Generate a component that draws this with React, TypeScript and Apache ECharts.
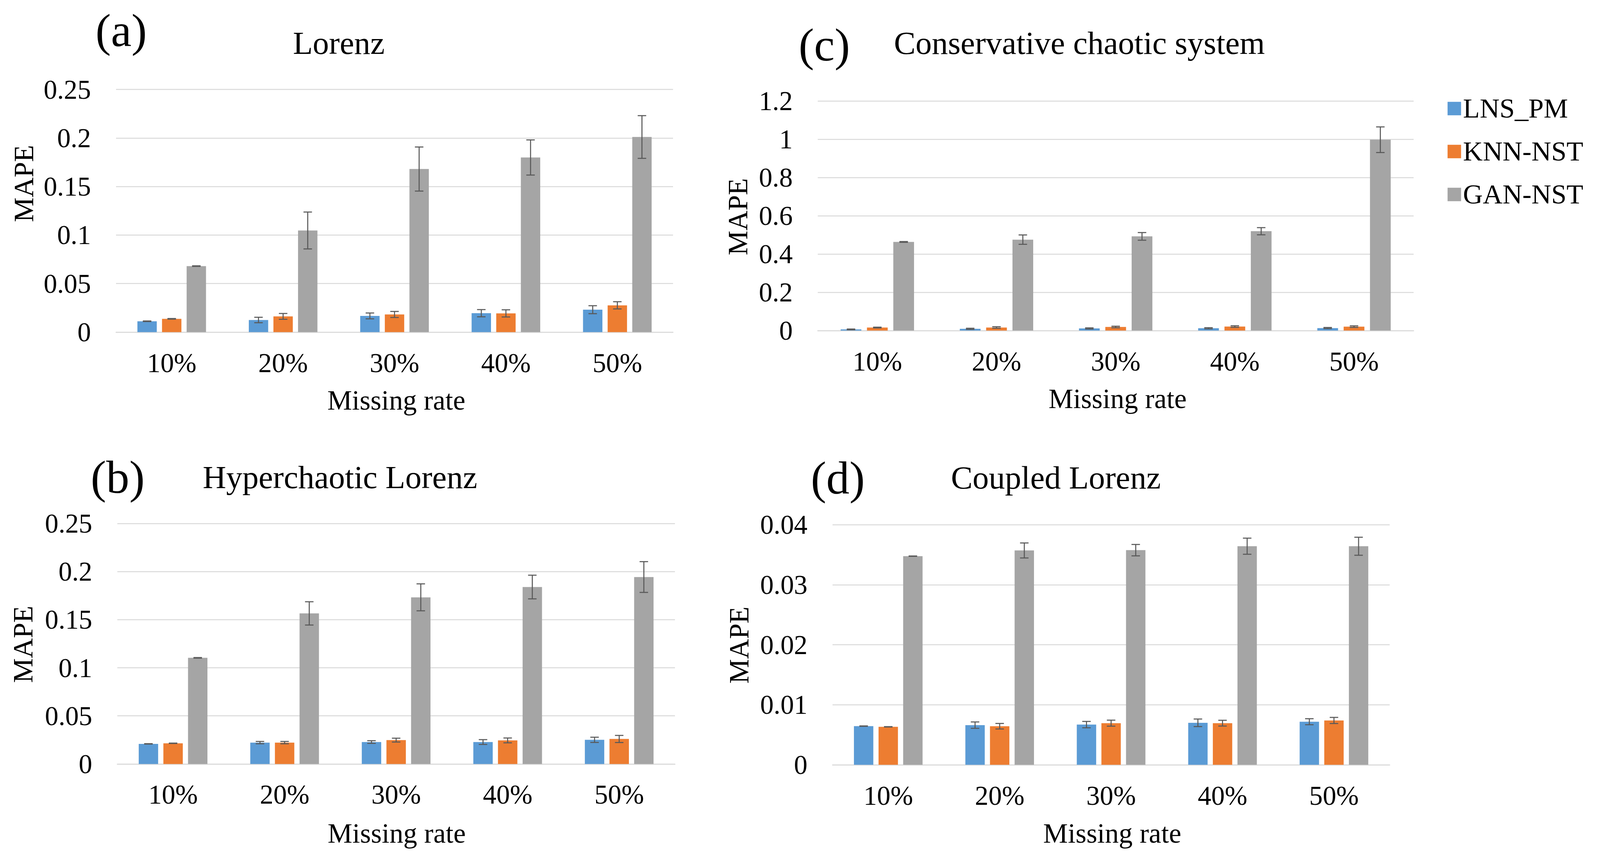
import React, { useEffect, useRef } from 'react';
import * as echarts from 'echarts';

// ---------- data ----------
const categories = ['10%', '20%', '30%', '40%', '50%'];
const seriesNames = ['LNS_PM', 'KNN-NST', 'GAN-NST'];
const colors = ['#5B9BD5', '#ED7D31', '#A5A5A5'];

// (a) Lorenz
const lorenzLNS = [0.0112, 0.0125, 0.0167, 0.0195, 0.0231];
const lorenzLNSErr = [0.0003, 0.0028, 0.003, 0.0037, 0.0041];
const lorenzKNN = [0.0137, 0.0162, 0.0182, 0.0193, 0.0276];
const lorenzKNNErr = [0.0003, 0.003, 0.0031, 0.0037, 0.0037];
const lorenzGAN = [0.068, 0.1047, 0.168, 0.1799, 0.201];
const lorenzGANErr = [0.0003, 0.019, 0.0227, 0.0181, 0.022];

// (b) Hyperchaotic Lorenz
const hyperLNS = [0.0209, 0.0222, 0.0228, 0.0228, 0.0251];
const hyperLNSErr = [0.0002, 0.0012, 0.0014, 0.0025, 0.0027];
const hyperKNN = [0.0215, 0.0222, 0.0248, 0.0245, 0.026];
const hyperKNNErr = [0.0002, 0.0012, 0.002, 0.0025, 0.0037];
const hyperGAN = [0.1103, 0.1565, 0.1732, 0.1839, 0.1943];
const hyperGANErr = [0.0003, 0.0121, 0.014, 0.0123, 0.016];

// (c) Conservative chaotic system
const consLNS = [0.006, 0.009, 0.011, 0.012, 0.013];
const consLNSErr = [0.002, 0.003, 0.003, 0.003, 0.003];
const consKNN = [0.0157, 0.016, 0.0187, 0.021, 0.0205];
const consKNNErr = [0.002, 0.004, 0.004, 0.004, 0.004];
const consGAN = [0.463, 0.475, 0.492, 0.519, 0.997];
const consGANErr = [0.002, 0.0245, 0.02, 0.0187, 0.067];

// (d) Coupled Lorenz
const coupLNS = [0.00645, 0.00661, 0.0067, 0.007, 0.00718];
const coupLNSErr = [0.00003, 0.00053, 0.00053, 0.00063, 0.0005];
const coupKNN = [0.00633, 0.00643, 0.00694, 0.00694, 0.00739];
const coupKNNErr = [0.00003, 0.00046, 0.0005, 0.00048, 0.00051];
const coupGAN = [0.03475, 0.0357, 0.03575, 0.03641, 0.0364];
const coupGANErr = [0.00003, 0.00125, 0.00095, 0.00134, 0.0015];

const yAxisMax = [0.25, 0.25, 1.2, 0.04];
const yAxisInterval = [0.05, 0.05, 0.2, 0.01];
const panelTitles = ['Lorenz', 'Hyperchaotic Lorenz', 'Conservative chaotic system', 'Coupled Lorenz'];
const panelLabels = ['(a)', '(b)', '(c)', '(d)'];
const yAxisName = 'MAPE';
const xAxisName = 'Missing rate';

// ---------- layout (reference frame 4146 x 2210) ----------
const REF_W = 4146;
const REF_H = 2210;
const FONT = 'Liberation Serif';
const panels = [
  {
    grid: { left: 300.6, top: 229, width: 1443.4, height: 621.5 },
    values: [lorenzLNS, lorenzKNN, lorenzGAN],
    errs: [lorenzLNSErr, lorenzKNNErr, lorenzGANErr],
    titlePos: [878, 110], labelPos: [314, 78], mapePos: [62, 470], xNamePos: [1027, 1025],
  },
  {
    grid: { left: 304, top: 1340.4, width: 1445, height: 616 },
    values: [hyperLNS, hyperKNN, hyperGAN],
    errs: [hyperLNSErr, hyperKNNErr, hyperGANErr],
    titlePos: [881, 1222], labelPos: [305, 1222], mapePos: [60, 1650], xNamePos: [1028, 2134],
  },
  {
    grid: { left: 2119, top: 258.3, width: 1544, height: 588.2 },
    values: [consLNS, consKNN, consGAN],
    errs: [consLNSErr, consKNNErr, consGANErr],
    titlePos: [2797, 110], labelPos: [2136, 115], mapePos: [1912, 555], xNamePos: [2896, 1021],
  },
  {
    grid: { left: 2157.3, top: 1343.5, width: 1443.7, height: 615.1 },
    values: [coupLNS, coupKNN, coupGAN],
    errs: [coupLNSErr, coupKNNErr, coupGANErr],
    titlePos: [2736, 1223], labelPos: [2171, 1224], mapePos: [1915, 1652], xNamePos: [2882, 2134],
  },
];

const BAR_W = 0.174;
const BAR_GAP = 0.27;

function buildOption(w: number, h: number) {
  const sx = w / REF_W;
  const sy = h / REF_H;
  const s = Math.min(sx, sy);
  const fs = (v: number) => Math.round(v * s * 10) / 10;

  const makeErr = (k: number) => (params: any, api: any) => {
    const idx = api.value(0);
    const v = api.value(1);
    const e = api.value(2);
    const band = api.size([1, 0])[0];
    const bw = band * BAR_W;
    const gap = bw * BAR_GAP;
    const cx = api.coord([idx, v])[0] + (k - 1) * (bw + gap);
    const yt = api.coord([idx, v + e])[1];
    const yb = api.coord([idx, v - e])[1];
    const cap = 11 * s;
    const style = { stroke: '#595959', lineWidth: 2.7 * s };
    return {
      type: 'group',
      children: [
        { type: 'line', shape: { x1: cx, y1: yt, x2: cx, y2: yb }, style },
        { type: 'line', shape: { x1: cx - cap, y1: yt, x2: cx + cap, y2: yt }, style },
        { type: 'line', shape: { x1: cx - cap, y1: yb, x2: cx + cap, y2: yb }, style },
      ],
    };
  };

  const textStyle = (text: string, size: number) => ({
    text,
    fontSize: fs(size),
    fontFamily: FONT,
    fill: '#000',
    textAlign: 'center',
    textVerticalAlign: 'middle',
    align: 'center',
    verticalAlign: 'middle',
  });

  const series: any[] = [];
  panels.forEach((p, i) => {
    for (let k = 0; k < 3; k++) {
      series.push({
        type: 'bar',
        name: seriesNames[k],
        xAxisIndex: i,
        yAxisIndex: i,
        data: p.values[k],
        barWidth: (BAR_W * 100).toFixed(1) + '%',
        barGap: BAR_GAP * 100 + '%',
        itemStyle: { color: colors[k] },
      });
    }
    for (let k = 0; k < 3; k++) {
      series.push({
        type: 'custom',
        xAxisIndex: i,
        yAxisIndex: i,
        renderItem: makeErr(k),
        data: categories.map((_, j) => [j, p.values[k][j], p.errs[k][j]]),
        encode: { x: 0, y: 1 },
        z: 10,
        silent: true,
        clip: false,
      });
    }
  });

  const graphic: any[] = [];
  panels.forEach((p, i) => {
    graphic.push({ type: 'text', x: p.labelPos[0] * sx, y: p.labelPos[1] * sy, style: textStyle(panelLabels[i], 120) });
    graphic.push({ type: 'text', x: p.titlePos[0] * sx, y: p.titlePos[1] * sy, style: textStyle(panelTitles[i], 84) });
    graphic.push({ type: 'text', x: p.mapePos[0] * sx, y: p.mapePos[1] * sy, rotation: Math.PI / 2, style: textStyle(yAxisName, 72) });
    graphic.push({ type: 'text', x: p.xNamePos[0] * sx, y: p.xNamePos[1] * sy, style: textStyle(xAxisName, 72) });
  });

  return {
    animation: false,
    backgroundColor: '#ffffff',
    textStyle: { fontFamily: FONT },
    legend: {
      data: seriesNames,
      orient: 'vertical',
      align: 'left',
      left: 3746 * sx,
      top: 237 * sy,
      padding: 5 * s,
      itemWidth: 35 * s,
      itemHeight: 35 * s,
      itemGap: 38 * sy,
      icon: 'rect',
      textStyle: { fontSize: fs(71), fontFamily: FONT, color: '#000', lineHeight: 72 * sy },
    },
    grid: panels.map((p) => ({
      left: p.grid.left * sx,
      top: p.grid.top * sy,
      width: p.grid.width * sx,
      height: p.grid.height * sy,
      containLabel: false,
    })),
    xAxis: panels.map((p, i) => ({
      type: 'category',
      gridIndex: i,
      data: categories,
      axisTick: { show: false },
      axisLine: { show: true, lineStyle: { color: '#D9D9D9', width: 2.5 * s } },
      axisLabel: { fontSize: fs(70), fontFamily: FONT, color: '#000', margin: 44 * sy },
    })),
    yAxis: panels.map((p, i) => ({
      type: 'value',
      gridIndex: i,
      min: 0,
      max: yAxisMax[i],
      interval: yAxisInterval[i],
      axisLine: { show: false },
      axisTick: { show: false },
      splitLine: { lineStyle: { color: '#D9D9D9', width: 2.5 * s } },
      axisLabel: { fontSize: fs(70), fontFamily: FONT, color: '#000', margin: 65 * sx },
    })),
    graphic,
    series,
  };
}

export default function App() {
  const ref = useRef<HTMLDivElement>(null);
  useEffect(() => {
    const el = ref.current;
    if (!el) return;
    const w = el.clientWidth || REF_W;
    const h = el.clientHeight || REF_H;
    const chart = echarts.init(el, undefined, { renderer: 'svg', width: w, height: h });
    chart.setOption(buildOption(w, h) as any);
    return () => chart.dispose();
  }, []);
  return (
    <div
      ref={ref}
      style={{ position: 'fixed', left: 0, top: 0, right: 0, bottom: 0, background: '#fff', overflow: 'hidden' }}
    />
  );
}
